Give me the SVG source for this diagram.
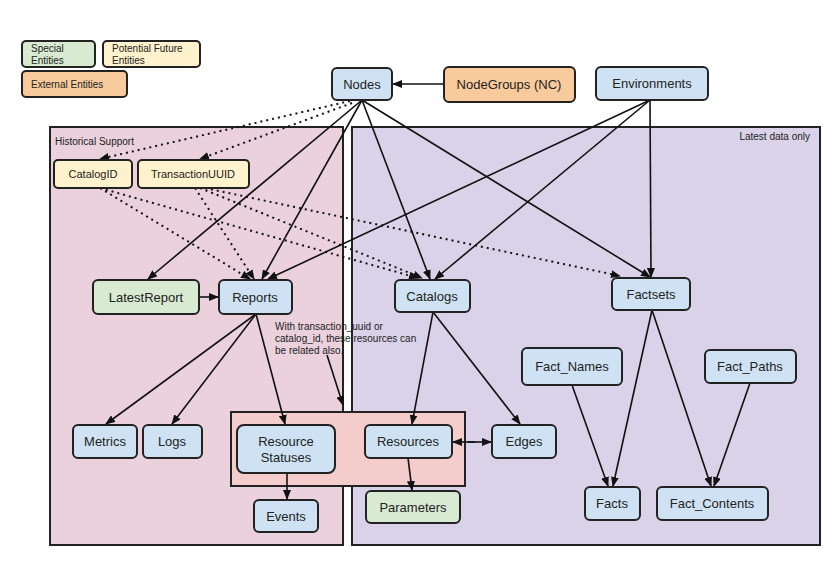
<svg xmlns="http://www.w3.org/2000/svg" width="840" height="571" viewBox="0 0 840 571">
<style>
text{font-family:"Liberation Sans",Arial,sans-serif;fill:#222}
.n rect,.l rect{stroke:#222;stroke-width:2}
.b{fill:#cfe2f3}.g{fill:#d9ead3}.y{fill:#fff2cc}.o{fill:#f9cb9c}
.n text{font-size:13px;text-anchor:middle}
.l text{font-size:10px}
#edges line,#edges path{stroke:#111;stroke-width:1.6;fill:none;marker-end:url(#a)}
#edges .d{stroke-dasharray:2 4;stroke-width:2}
</style>
<defs><marker id="a" markerWidth="10" markerHeight="8" refX="9" refY="4" orient="auto" markerUnits="userSpaceOnUse"><path d="M0,0L10,4L0,8z" fill="#111"/></marker></defs>
<rect width="840" height="571" fill="#fff"/>
<rect x="50" y="127" width="293" height="418" fill="#ead1dc" stroke="#222" stroke-width="2"/>
<rect x="352" y="127" width="468" height="418" fill="#d9d2e9" stroke="#222" stroke-width="2"/>
<text x="55" y="145" font-size="10">Historical Support</text>
<text x="810" y="140" font-size="10" text-anchor="end">Latest data only</text>
<rect x="231" y="412" width="234" height="74" fill="#f4cccc" stroke="#222" stroke-width="2"/>
<g class="l">
<g id="leg1"><rect x="22" y="41" width="73" height="26" rx="4" class="g"/><text x="31" y="52">Special</text><text x="31" y="64">Entities</text></g>
<g id="leg2"><rect x="103" y="41" width="97" height="26" rx="4" class="y"/><text x="112" y="52">Potential Future</text><text x="112" y="64">Entities</text></g>
<g id="leg3"><rect x="22" y="71" width="105" height="26" rx="4" class="o"/><text x="31" y="88">External Entities</text></g>
</g>
<g id="edges">
<line x1="444" y1="84" x2="393" y2="84"/>
<line x1="362" y1="100" x2="148" y2="279"/>
<line x1="362" y1="100" x2="262" y2="279"/>
<line x1="362" y1="100" x2="430" y2="279"/>
<line x1="362" y1="100" x2="650" y2="277"/>
<line class="d" x1="350" y1="101" x2="100" y2="159"/>
<line class="d" x1="352" y1="103" x2="200" y2="159"/>
<line x1="650" y1="100" x2="268" y2="279"/>
<line x1="650" y1="100" x2="435" y2="279"/>
<line x1="650" y1="100" x2="651" y2="277"/>
<line class="d" x1="100" y1="188" x2="250" y2="279"/>
<line class="d" x1="100" y1="188" x2="418" y2="278"/>
<line class="d" x1="195" y1="188" x2="254" y2="279"/>
<line class="d" x1="200" y1="188" x2="422" y2="278"/>
<line class="d" x1="205" y1="188" x2="620" y2="276"/>
<line x1="199" y1="297" x2="218" y2="297"/>
<line x1="256" y1="314" x2="106" y2="424"/>
<line x1="256" y1="314" x2="172" y2="424"/>
<line x1="256" y1="314" x2="285" y2="424"/>
<line x1="327" y1="355" x2="343" y2="405"/>
<line x1="433" y1="312" x2="412" y2="424"/>
<line x1="433" y1="312" x2="520" y2="424"/>
<line x1="468" y1="442" x2="491" y2="442"/>
<line x1="475" y1="442" x2="453" y2="442"/>
<line x1="287" y1="473" x2="287" y2="499"/>
<line x1="408" y1="458" x2="412" y2="490"/>
<line x1="652" y1="310" x2="613" y2="486"/>
<line x1="652" y1="310" x2="711" y2="486"/>
<line x1="572" y1="385" x2="608" y2="486"/>
<line x1="750" y1="383" x2="714" y2="486"/>
</g>
<text font-size="10" x="275" y="330">With transaction_uuid or</text>
<text font-size="10" x="275" y="342">catalog_id, these resources can</text>
<text font-size="10" x="275" y="354">be related also.</text>
<g class="n">
<g id="Nodes"><rect x="332" y="68" width="60" height="32" rx="5" class="b"/><text x="362" y="89">Nodes</text></g>
<g id="NodeGroups"><rect x="444" y="67" width="131" height="35" rx="5" class="o"/><text x="509" y="89">NodeGroups (NC)</text></g>
<g id="Environments"><rect x="596" y="67" width="112" height="33" rx="5" class="b"/><text x="652" y="88">Environments</text></g>
<g id="CatalogID"><rect x="54" y="160" width="78" height="28" rx="4" class="y"/><text x="93" y="178" style="font-size:11px">CatalogID</text></g>
<g id="TransactionUUID"><rect x="138" y="160" width="111" height="28" rx="4" class="y"/><text x="193" y="178" style="font-size:11px">TransactionUUID</text></g>
<g id="LatestReport"><rect x="93" y="280" width="106" height="34" rx="5" class="g"/><text x="146" y="302">LatestReport</text></g>
<g id="Reports"><rect x="219" y="280" width="73" height="34" rx="5" class="b"/><text x="255" y="302">Reports</text></g>
<g id="Catalogs"><rect x="395" y="280" width="75" height="32" rx="5" class="b"/><text x="432" y="301">Catalogs</text></g>
<g id="Factsets"><rect x="612" y="278" width="78" height="32" rx="5" class="b"/><text x="651" y="299">Factsets</text></g>
<g id="Metrics"><rect x="73" y="425" width="64" height="33" rx="5" class="b"/><text x="105" y="446">Metrics</text></g>
<g id="Logs"><rect x="143" y="425" width="59" height="33" rx="5" class="b"/><text x="172" y="446">Logs</text></g>
<g id="ResourceStatuses"><rect x="237" y="425" width="98" height="48" rx="7" class="b"/><text x="286" y="446">Resource</text><text x="286" y="462">Statuses</text></g>
<g id="Resources"><rect x="365" y="425" width="87" height="33" rx="5" class="b"/><text x="408" y="446">Resources</text></g>
<g id="Edges"><rect x="492" y="425" width="64" height="33" rx="5" class="b"/><text x="524" y="446">Edges</text></g>
<g id="Events"><rect x="254" y="500" width="64" height="32" rx="5" class="b"/><text x="286" y="521">Events</text></g>
<g id="Parameters"><rect x="366" y="491" width="94" height="32" rx="5" class="g"/><text x="413" y="512">Parameters</text></g>
<g id="Fact_Names"><rect x="522" y="348" width="100" height="37" rx="5" class="b"/><text x="572" y="371">Fact_Names</text></g>
<g id="Fact_Paths"><rect x="705" y="350" width="91" height="33" rx="5" class="b"/><text x="750" y="371">Fact_Paths</text></g>
<g id="Facts"><rect x="585" y="487" width="55" height="33" rx="5" class="b"/><text x="612" y="508">Facts</text></g>
<g id="Fact_Contents"><rect x="657" y="487" width="111" height="33" rx="5" class="b"/><text x="712" y="508">Fact_Contents</text></g>
</g>
</svg>
